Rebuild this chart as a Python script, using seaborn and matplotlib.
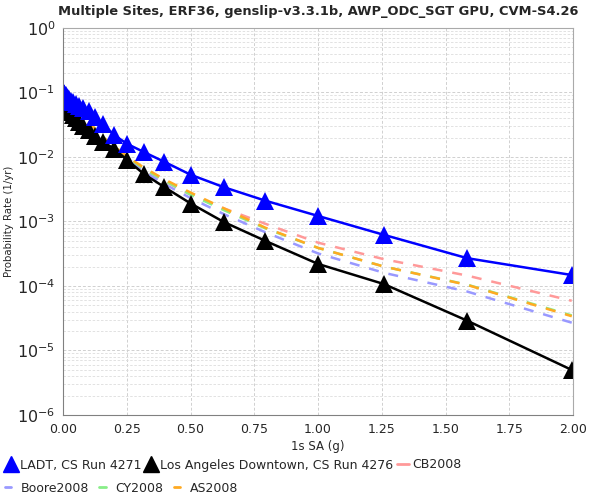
import matplotlib
matplotlib.use("Agg")
import matplotlib.pyplot as plt
from matplotlib.lines import Line2D
from matplotlib.ticker import LogLocator, FixedLocator
import seaborn as sns
import pandas as pd

# intensity measure levels (g)
iml = [0.0001, 0.00013, 0.00016, 0.0002, 0.00025, 0.00032, 0.0004, 0.0005,
       0.00063, 0.00079, 0.001, 0.00126, 0.00158, 0.002, 0.00251, 0.00316,
       0.00398, 0.00501, 0.00631, 0.00794, 0.01, 0.0126, 0.0158, 0.02,
       0.0251, 0.0316, 0.0398, 0.0501, 0.0631, 0.0794, 0.1, 0.126, 0.158,
       0.2, 0.251, 0.316, 0.398, 0.501, 0.631, 0.794, 1.0, 1.259, 1.585, 1.995]

ladt_4271 = [0.1, 0.1, 0.1, 0.1, 0.1, 0.1, 0.1, 0.099,
             0.099, 0.099, 0.098, 0.098, 0.097, 0.097, 0.096, 0.096,
             0.095, 0.094, 0.093, 0.092, 0.091, 0.089, 0.086, 0.083,
             0.079, 0.075, 0.070, 0.066, 0.061, 0.057, 0.052, 0.042, 0.032,
             0.022, 0.016, 0.012, 0.0084, 0.0053, 0.0034, 0.0021, 0.00122,
             0.00062, 0.00027, 0.000148]

la_downtown_4276 = [0.078, 0.078, 0.078, 0.078, 0.078, 0.078, 0.078, 0.077,
                    0.077, 0.077, 0.077, 0.077, 0.076, 0.076, 0.076, 0.076,
                    0.075, 0.075, 0.073, 0.071, 0.068, 0.065, 0.062, 0.058,
                    0.054, 0.050, 0.045, 0.040, 0.035, 0.030, 0.026, 0.021,
                    0.017, 0.0135, 0.0090, 0.0055, 0.0034, 0.0019, 0.00098,
                    0.00050, 0.00022, 0.000107, 0.000029, 0.0000050]

gmpe_iml = [0.1, 0.126, 0.158, 0.2, 0.251, 0.316, 0.398, 0.501, 0.631,
            0.794, 1.0, 1.259, 1.585, 1.995]
cb2008 = [0.035, 0.027, 0.020, 0.0145, 0.010, 0.0065, 0.0042, 0.0026, 0.0016,
          0.00092, 0.00047, 0.00026, 0.000145, 0.000059]
boore2008 = [0.034, 0.026, 0.019, 0.014, 0.0095, 0.0060, 0.0038, 0.0023, 0.0013,
             0.00068, 0.00032, 0.00016, 0.000082, 0.000027]
cy2008 = [0.035, 0.027, 0.020, 0.0145, 0.010, 0.0066, 0.0043, 0.0026, 0.0015,
          0.00078, 0.00039, 0.00020, 0.000105, 0.000035]
as2008 = [0.035, 0.027, 0.020, 0.0148, 0.0102, 0.0069, 0.0045, 0.0028, 0.0016,
          0.00080, 0.00039, 0.00020, 0.000104, 0.000034]

sns.set_style("white")
plt.rcParams["font.family"] = ["DejaVu Sans"]

fig = plt.figure(figsize=(6, 5), dpi=100)
ax = fig.add_axes([0.105, 0.17, 0.85, 0.774])

gmpes = [("CB2008", cb2008, "#ff9999"),
         ("Boore2008", boore2008, "#9999ff"),
         ("CY2008", cy2008, "#88ee88"),
         ("AS2008", as2008, "#ffaa22")]
for name, vals, col in gmpes:
    df = pd.DataFrame({"x": gmpe_iml, "y": vals})
    sns.lineplot(data=df, x="x", y="y", ax=ax, color=col, linewidth=1.8,
                 linestyle=(0, (4, 4)), legend=False)

df_la = pd.DataFrame({"x": iml, "y": la_downtown_4276})
sns.lineplot(data=df_la, x="x", y="y", ax=ax, color="black", linewidth=1.8,
             marker="^", markersize=13, markeredgewidth=0, legend=False)
df_ladt = pd.DataFrame({"x": iml, "y": ladt_4271})
sns.lineplot(data=df_ladt, x="x", y="y", ax=ax, color="blue", linewidth=1.8,
             marker="^", markersize=13, markeredgewidth=0, legend=False)

ax.set_yscale("log")
ax.set_xlim(0, 2.0)
ax.set_ylim(1e-6, 1)
ax.xaxis.set_major_locator(FixedLocator([0, 0.25, 0.5, 0.75, 1.0, 1.25, 1.5, 1.75, 2.0]))
ax.set_xticklabels(["0.00", "0.25", "0.50", "0.75", "1.00", "1.25", "1.50", "1.75", "2.00"])
ax.yaxis.set_major_locator(LogLocator(base=10, numticks=10))
ax.yaxis.set_minor_locator(LogLocator(base=10, subs=range(2, 10), numticks=20))
ax.grid(True, which="major", color="#d0d0d0", linestyle=(0, (3, 2)), linewidth=0.7)
ax.grid(True, which="minor", axis="y", color="#dddddd", linestyle=(0, (3, 2)), linewidth=0.6)
ax.tick_params(axis="both", which="both", length=2, color="#888888")
ax.tick_params(axis="x", labelsize=9)
ax.tick_params(axis="y", labelsize=11.5)
for sp in ax.spines.values():
    sp.set_color("#aaaaaa")
ax.spines["left"].set_color("#808080")
ax.spines["bottom"].set_color("#808080")

ax.set_xlabel("1s SA (g)", fontsize=8.5, labelpad=3)
ax.set_ylabel("Probability Rate (1/yr)", fontsize=7.3, labelpad=2)
ax.set_title("Multiple Sites, ERF36, genslip-v3.3.1b, AWP_ODC_SGT GPU, CVM-S4.26",
             fontsize=9.4, fontweight="bold", pad=9)

row1 = [Line2D([], [], color="blue", marker="^", markersize=12, linestyle="none"),
        Line2D([], [], color="black", marker="^", markersize=12, linestyle="none"),
        Line2D([], [], color="#ff9999", linewidth=2)]
row2 = [Line2D([], [], color="#9999ff", linewidth=2),
        Line2D([], [], color="#88ee88", linewidth=2),
        Line2D([], [], color="#ffaa22", linewidth=2)]
leg1 = fig.legend(row1, ["LADT, CS Run 4271", "Los Angeles Downtown, CS Run 4276", "CB2008"],
                  loc="upper left", bbox_to_anchor=(0.008, 0.083), ncol=3, frameon=False,
                  fontsize=9, handlelength=1.0, handletextpad=0.2, columnspacing=0.3,
                  borderaxespad=0, borderpad=0)
leg2 = fig.legend(row2, ["Boore2008", "CY2008", "AS2008"],
                  loc="upper left", bbox_to_anchor=(0.008, 0.037), ncol=3, frameon=False,
                  fontsize=9, handlelength=0.5, handletextpad=0.8, columnspacing=0.8,
                  borderaxespad=0, borderpad=0)

fig.savefig("out.png", dpi=100)
plt.close(fig)
